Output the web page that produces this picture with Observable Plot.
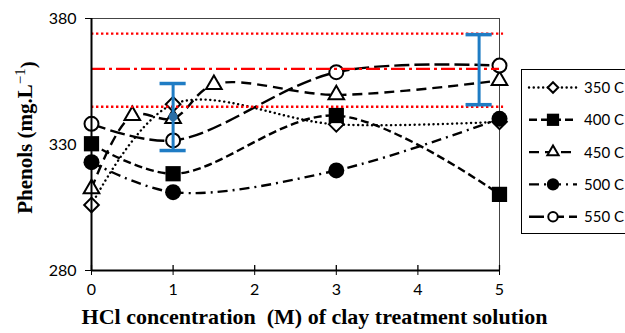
<!DOCTYPE html>
<html>
<head>
<meta charset="utf-8">
<script src="https://cdn.jsdelivr.net/npm/d3@7"></script>
<script src="https://cdn.jsdelivr.net/npm/@observablehq/plot@0.6"></script>
<style>
  html, body { margin: 0; padding: 0; background: #fff; overflow: hidden; }
  #chart { width: 625px; height: 333px; overflow: hidden; }
</style>
</head>
<body>
<div id="chart"></div>
<script>
// HCl concentration (M) at which each pyrolysis temperature was sampled
const hcl = [0, 1, 3, 5];
const hcl450 = [0, 0.5, 1, 1.5, 3, 5];

// Phenols (mg/L) per pyrolysis temperature
const phenols350 = [306, 346, 338, 339];
const phenols400 = [330.3, 318.4, 341.5, 310.2];
const phenols450 = [312.4, 341.5, 340.3, 353.8, 349.7, 355.4];
const phenols500 = [323, 311.1, 319.7, 340.2];
const phenols550 = [338.2, 331.6, 358.7, 361.3];

const seriesNames = ["350 C", "400 C", "450 C", "500 C", "550 C"];

// Reference band: mean and limits
const refMean = 360;
const refUpper = 374;
const refLower = 345;

// Error bars
const errX = [1, 4.75];
const errMid = [341, null];
const errLow = [327.6, 345.8];
const errHigh = [354.2, 373.6];

const xTicks = [0, 1, 2, 3, 4, 5];
const yTicks = [280, 330, 380];

// ---- build tables ----
const toRows = (xs, ys) => xs.map((x, i) => ({x, y: ys[i]}));
const seriesData = [
  toRows(hcl, phenols350),
  toRows(hcl, phenols400),
  toRows(hcl450, phenols450),
  toRows(hcl, phenols500),
  toRows(hcl, phenols550)
];
const errRows = errX.map((x, i) => ({x, mid: errMid[i], lo: errLow[i], hi: errHigh[i]}));

// line and marker styles per series
const styles = [
  {dash: "0.1,4.6", cap: "round", symbol: "diamond2", d3sym: d3.symbolDiamond2, r: 6.6, fill: "white", legendSize: 70},
  {dash: "8,4", cap: "butt", symbol: "square", d3sym: d3.symbolSquare, r: 8.6, fill: "black", legendSize: 150},
  {dash: "10,6", cap: "butt", symbol: "triangle", d3sym: d3.symbolTriangle, r: 5.8, fill: "white", legendSize: 55},
  {dash: "10,5,2,5", cap: "butt", symbol: "circle", d3sym: d3.symbolCircle, r: 8, fill: "black", legendSize: 120},
  {dash: "15,5", cap: "butt", symbol: "circle", d3sym: d3.symbolCircle, r: 7, fill: "white", legendSize: 70}
];

const blue = "#1f7cc4";
const tickFont = "Lato, 'Open Sans', sans-serif";
const titleFont = "'Liberation Serif', 'Times New Roman', serif";

const marks = [];

// frame: thin top and right edges, heavy left and bottom axes
marks.push(Plot.ruleY([380], {x1: 0, x2: 5, stroke: "#444", strokeWidth: 1}));
marks.push(Plot.ruleX([5], {y1: 280, y2: 380, stroke: "#444", strokeWidth: 1}));

seriesData.forEach((rows, i) => {
  const s = styles[i];
  marks.push(Plot.line(rows, {
    x: "x", y: "y", curve: "catmull-rom",
    stroke: "black", strokeWidth: 2.4,
    strokeDasharray: s.dash, strokeLinecap: s.cap
  }));
  marks.push(Plot.dot(rows, {
    x: "x", y: "y", symbol: () => s.symbol, r: s.r,
    fill: s.fill, stroke: "black", strokeWidth: s.fill === "white" ? 2 : 0
  }));
});

// reference limits and mean
marks.push(Plot.ruleY([refUpper, refLower], {x1: 0, x2: 5.05, stroke: "red", strokeWidth: 2.4, strokeDasharray: "2.4,2.6"}));
marks.push(Plot.ruleY([refMean], {x1: 0, x2: 5, stroke: "red", strokeWidth: 2.4, strokeDasharray: "14,4,3,4"}));

// error bars
marks.push(Plot.ruleX(errRows, {x: "x", y1: "lo", y2: "hi", stroke: blue, strokeWidth: 3}));
marks.push(Plot.ruleY(errRows, {y: "lo", x1: d => d.x - 0.16, x2: d => d.x + 0.16, stroke: blue, strokeWidth: 3.5}));
marks.push(Plot.ruleY(errRows, {y: "hi", x1: d => d.x - 0.16, x2: d => d.x + 0.16, stroke: blue, strokeWidth: 3.5}));
marks.push(Plot.dot(errRows.filter(d => d.mid != null), {x: "x", y: "mid", r: 4.5, fill: "#2b6ea6"}));

// axes lines and crossing x ticks
marks.push(Plot.ruleX([0], {y1: 280, y2: 380, stroke: "black", strokeWidth: 2}));
marks.push(Plot.ruleY([280], {x1: 0, x2: 5, stroke: "black", strokeWidth: 2}));
marks.push(Plot.ruleX(xTicks, {y1: 280, y2: 282, stroke: "black", strokeWidth: 1.3}));

// axis titles
marks.push(Plot.text(["HCl\u00a0concentration\u00a0\u00a0(M) of clay treatment solution"], {
  frameAnchor: "bottom", dy: 53, dx: 19, fontSize: 22, fontWeight: "bold",
  fontFamily: titleFont, fill: "black", textAnchor: "middle"
}));
marks.push(Plot.text(["Phenols (mg.L"], {
  frameAnchor: "left", dx: -66, dy: -7, rotate: -90, fontSize: 21, fontWeight: "bold",
  fontFamily: titleFont, fill: "black", textAnchor: "middle"
}));

const chart = Plot.plot({
  width: 625,
  height: 333,
  marginLeft: 91,
  marginRight: 126,
  marginTop: 18,
  marginBottom: 63,
  style: {fontFamily: tickFont, fontSize: "16px", color: "black", background: "white", overflow: "visible"},
  x: {domain: [0, 5], ticks: xTicks, tickSize: 5, tickPadding: 8, label: null, tickFormat: d => String(d)},
  y: {domain: [280, 380], ticks: yTicks, tickSize: 6, tickPadding: 9, label: null, tickFormat: d => String(d)},
  marks
});

const svg = d3.select(chart);

// superscript on the y-axis unit
svg.selectAll("text").each(function () {
  if (this.textContent === "Phenols (mg.L") {
    const t = d3.select(this);
    t.append("tspan").attr("dy", "-0.5em").attr("font-size", "15px").attr("font-weight", "normal").text("\u22121");
    t.append("tspan").attr("dy", "0.5em").text(")");
  }
});

// legend
const legend = svg.append("g")
  .attr("font-family", tickFont).attr("font-size", 15).attr("text-anchor", "start");
legend.append("rect")
  .attr("x", 521.5).attr("y", 69.5).attr("width", 200).attr("height", 164)
  .attr("fill", "white").attr("stroke", "black").attr("stroke-width", 1);
seriesNames.forEach((name, i) => {
  const s = styles[i];
  const cy = 87.5 + i * 32.3;
  legend.append("line")
    .attr("x1", 529).attr("x2", 577).attr("y1", cy).attr("y2", cy)
    .attr("stroke", "black").attr("stroke-width", 2.4)
    .attr("stroke-dasharray", s.dash).attr("stroke-linecap", s.cap);
  legend.append("path")
    .attr("transform", `translate(553,${cy})`)
    .attr("d", d3.symbol(s.d3sym, s.legendSize)())
    .attr("fill", s.fill).attr("stroke", "black").attr("stroke-width", s.fill === "white" ? 2 : 0);
  legend.append("text")
    .attr("x", 584).attr("y", cy).attr("dy", "0.36em").attr("text-anchor", "start")
    .attr("fill", "black").text(name);
});

document.getElementById("chart").appendChild(chart);
</script>
</body>
</html>
